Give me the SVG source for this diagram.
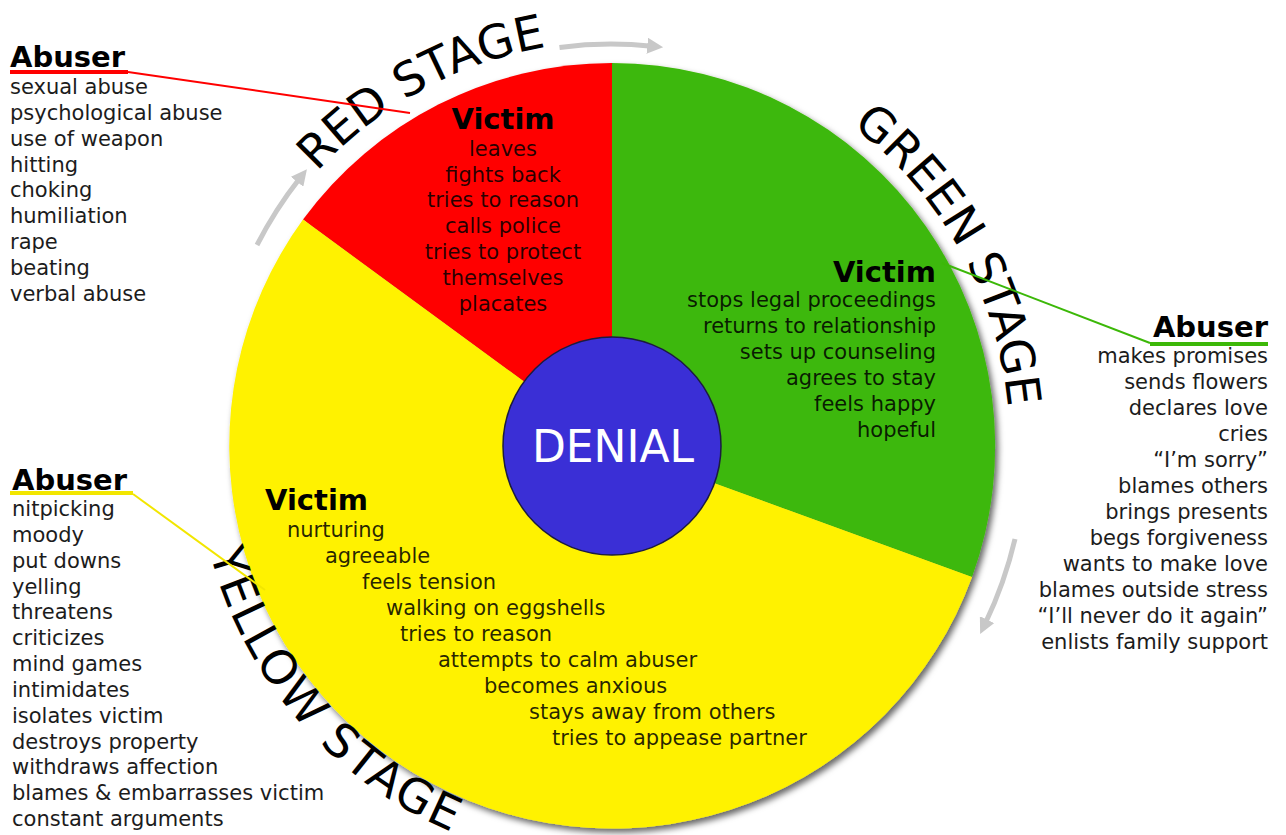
<svg xmlns="http://www.w3.org/2000/svg" width="1286" height="835" viewBox="0 0 1286 835">
<defs>
<filter id="sh" x="-10%" y="-10%" width="125%" height="125%">
<feDropShadow dx="3" dy="4" stdDeviation="3" flood-color="#000" flood-opacity="0.6"/>
</filter>
<marker id="ah" viewBox="0 0 10 10" refX="3" refY="5" markerWidth="16" markerHeight="16" markerUnits="userSpaceOnUse" orient="auto">
<path d="M0,0 L10,5 L0,10 Z" fill="#c8c8c8"/>
</marker>
<path id="pRed" d="M317,172 A405,405 0 0 1 612,41"/>
<path id="pGreen" d="M852,126 A398,398 0 0 1 1008,481"/>
<path id="pYellow" d="M210,553 A418,418 0 0 0 539,858"/>
</defs>
<style>
text{font-family:"DejaVu Sans","Verdana",sans-serif;}
.it{font-size:21px;fill:#1c1c1c;}
.hd{font-size:29px;font-weight:bold;fill:#000;}
.vt{font-size:21px;fill:#000;fill-opacity:0.85;}
.st{font-size:47px;fill:#000;}
.arr{fill:none;stroke:#c8c8c8;stroke-width:5;marker-end:url(#ah);}
</style>
<g id="wheel" filter="url(#sh)">
<path id="red" d="M612,446 L303,219.6 A383,383 0 0 1 612,63 Z" fill="#ff0000"/>
<path id="green" d="M612,446 L612,63 A383,383 0 0 1 972,577 Z" fill="#3cb808"/>
<path id="yellow" d="M612,446 L972,577 A383,383 0 1 1 303,219.6 Z" fill="#fff200"/>
</g>
<g id="denial">
<circle cx="612" cy="446" r="109" fill="#3a2fd6" stroke="#1c1c40" stroke-width="1.5"/>
<text x="613" y="462" text-anchor="middle" font-size="44" fill="#fff">DENIAL</text>
</g>
<g id="stages">
<text class="st"><textPath href="#pRed">RED STAGE</textPath></text>
<text class="st"><textPath href="#pGreen">GREEN STAGE</textPath></text>
<text class="st" letter-spacing="2"><textPath href="#pYellow">YELLOW STAGE</textPath></text>
</g>
<g id="connectors">
<path class="arr" d="M559.5,47.4 A402,402 0 0 1 652,46.2"/>
<path class="arr" d="M257,245 A410,410 0 0 1 300,178"/>
<path class="arr" d="M1015,539 A414,414 0 0 1 985,624"/>
<path d="M10,72 H128" stroke="#ff0000" stroke-width="4"/>
<path d="M128,72 L410,113" stroke="#ff0000" stroke-width="2" fill="none"/>
<path d="M942,263 L1150,343" stroke="#3cb808" stroke-width="2" fill="none"/>
<path d="M1150,344 H1268" stroke="#3cb808" stroke-width="4"/>
<path d="M10,493 H133" stroke="#f2e600" stroke-width="4"/>
<path d="M133,494 L265,590" stroke="#f2e600" stroke-width="2" fill="none"/>
</g>
<g id="abuser-red">
<text class="hd" x="10" y="67">Abuser</text>
<text class="it" x="10" y="94">sexual abuse</text>
<text class="it" x="10" y="120">psychological abuse</text>
<text class="it" x="10" y="146">use of weapon</text>
<text class="it" x="10" y="172">hitting</text>
<text class="it" x="10" y="197">choking</text>
<text class="it" x="10" y="223">humiliation</text>
<text class="it" x="10" y="249">rape</text>
<text class="it" x="10" y="275">beating</text>
<text class="it" x="10" y="301">verbal abuse</text>
</g>
<g id="victim-red" text-anchor="middle">
<text class="hd" x="503" y="129">Victim</text>
<text class="vt" x="503" y="156">leaves</text>
<text class="vt" x="503" y="182">fights back</text>
<text class="vt" x="503" y="207">tries to reason</text>
<text class="vt" x="503" y="233">calls police</text>
<text class="vt" x="503" y="259">tries to protect</text>
<text class="vt" x="503" y="285">themselves</text>
<text class="vt" x="503" y="311">placates</text>
</g>
<g id="victim-green" text-anchor="end">
<text class="hd" x="936" y="282">Victim</text>
<text class="vt" x="936" y="307">stops legal proceedings</text>
<text class="vt" x="936" y="333">returns to relationship</text>
<text class="vt" x="936" y="359">sets up counseling</text>
<text class="vt" x="936" y="385">agrees to stay</text>
<text class="vt" x="936" y="411">feels happy</text>
<text class="vt" x="936" y="437">hopeful</text>
</g>
<g id="abuser-green" text-anchor="end">
<text class="hd" x="1268" y="337">Abuser</text>
<text class="it" x="1268" y="363">makes promises</text>
<text class="it" x="1268" y="389">sends flowers</text>
<text class="it" x="1268" y="415">declares love</text>
<text class="it" x="1268" y="441">cries</text>
<text class="it" x="1268" y="467">“I’m sorry”</text>
<text class="it" x="1268" y="493">blames others</text>
<text class="it" x="1268" y="519">brings presents</text>
<text class="it" x="1268" y="545">begs forgiveness</text>
<text class="it" x="1268" y="571">wants to make love</text>
<text class="it" x="1268" y="597">blames outside stress</text>
<text class="it" x="1268" y="623">“I’ll never do it again”</text>
<text class="it" x="1268" y="649">enlists family support</text>
</g>
<g id="abuser-yellow">
<text class="hd" x="12" y="490">Abuser</text>
<text class="it" x="12" y="516">nitpicking</text>
<text class="it" x="12" y="542">moody</text>
<text class="it" x="12" y="568">put downs</text>
<text class="it" x="12" y="594">yelling</text>
<text class="it" x="12" y="619">threatens</text>
<text class="it" x="12" y="645">criticizes</text>
<text class="it" x="12" y="671">mind games</text>
<text class="it" x="12" y="697">intimidates</text>
<text class="it" x="12" y="723">isolates victim</text>
<text class="it" x="12" y="749">destroys property</text>
<text class="it" x="12" y="774">withdraws affection</text>
<text class="it" x="12" y="800">blames &amp; embarrasses victim</text>
<text class="it" x="12" y="826">constant arguments</text>
</g>
<g id="victim-yellow">
<text class="hd" x="265" y="510">Victim</text>
<text class="vt" x="287" y="537">nurturing</text>
<text class="vt" x="325" y="563">agreeable</text>
<text class="vt" x="362" y="589">feels tension</text>
<text class="vt" x="386" y="615">walking on eggshells</text>
<text class="vt" x="400" y="641">tries to reason</text>
<text class="vt" x="438" y="667">attempts to calm abuser</text>
<text class="vt" x="484" y="693">becomes anxious</text>
<text class="vt" x="529" y="719">stays away from others</text>
<text class="vt" x="552" y="745">tries to appease partner</text>
</g>
</svg>
